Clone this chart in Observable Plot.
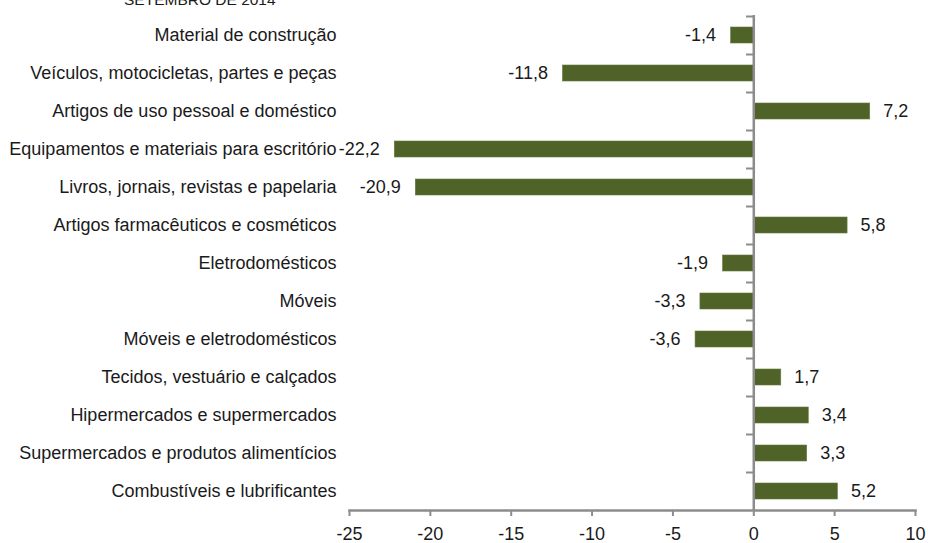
<!DOCTYPE html>
<html>
<head>
<meta charset="utf-8">
<script src="https://cdn.jsdelivr.net/npm/d3@7"></script>
<script src="https://cdn.jsdelivr.net/npm/@observablehq/plot@0.6"></script>
<style>
  html, body { margin: 0; padding: 0; background: #fff; overflow: hidden; }
  #wrap { position: relative; width: 928px; height: 543px; }
  #title { position: absolute; left: 124px; top: -8px; font: 15.5px "Liberation Sans", Arial, sans-serif; line-height: 1; color: #1a1a1a; white-space: nowrap; }
  #chart { position: absolute; left: 0; top: 0; }
</style>
</head>
<body>
<div id="wrap">
  <div id="chart"></div>
  <div id="title">SETEMBRO DE 2014</div>
</div>
<script>
const categories = [
  "Material de construção",
  "Veículos, motocicletas, partes e peças",
  "Artigos de uso pessoal e doméstico",
  "Equipamentos e materiais para escritório",
  "Livros, jornais, revistas e papelaria",
  "Artigos farmacêuticos e cosméticos",
  "Eletrodomésticos",
  "Móveis",
  "Móveis e eletrodomésticos",
  "Tecidos, vestuário e calçados",
  "Hipermercados e supermercados",
  "Supermercados e produtos alimentícios",
  "Combustíveis e lubrificantes"
];
const values = [-1.4, -11.8, 7.2, -22.2, -20.9, 5.8, -1.9, -3.3, -3.6, 1.7, 3.4, 3.3, 5.2];
const xTicks = [-25, -20, -15, -10, -5, 0, 5, 10];

const data = categories.map((c, i) => ({category: c, value: values[i]}));
const fmt = v => v.toFixed(1).replace(".", ",");
const green = "#4f6228";
const axisGray = "#8c8c8c";
const textColor = "#1a1a1a";

const chart = Plot.plot({
  width: 928,
  height: 543,
  marginLeft: 349,
  marginRight: 13,
  marginTop: 15,
  marginBottom: 33,
  style: {fontFamily: "'Liberation Sans', Arial, sans-serif", fontSize: "18px", color: textColor, background: "#fff", overflow: "visible"},
  x: {domain: [-25, 10], ticks: xTicks, label: null},
  y: {domain: categories, paddingInner: 0.58, paddingOuter: 0.29, label: null},
  marks: [
    Plot.barX(data, {y: "category", x1: 0, x2: "value", fill: green, stroke: "#667a3e", strokeWidth: 0.6}),
    Plot.ruleY(categories, {y: d => d, x1: -0.45, x2: 0, dy: -19, stroke: axisGray, strokeWidth: 2}),
    Plot.ruleX([0], {stroke: axisGray, strokeWidth: 2.5}),
    Plot.frame({anchor: "bottom", stroke: axisGray, strokeWidth: 2.5}),
    Plot.axisX({ticks: xTicks, tickSize: 6, tickPadding: 11, stroke: axisGray, strokeWidth: 2, fontSize: 18, fill: textColor, tickFormat: d => String(d), label: null}),
    Plot.axisY({tickSize: 0, tickPadding: 13, fontSize: 18, fill: textColor, label: null}),
    Plot.text(data.filter(d => d.value < 0), {y: "category", x: "value", text: d => fmt(d.value),
      textAnchor: "end", dx: -15, fontSize: 18, fill: textColor}),
    Plot.text(data.filter(d => d.value >= 0), {y: "category", x: "value", text: d => fmt(d.value),
      textAnchor: "start", dx: 13, fontSize: 18, fill: textColor})
  ]
});
document.getElementById("chart").appendChild(chart);
</script>
</body>
</html>
